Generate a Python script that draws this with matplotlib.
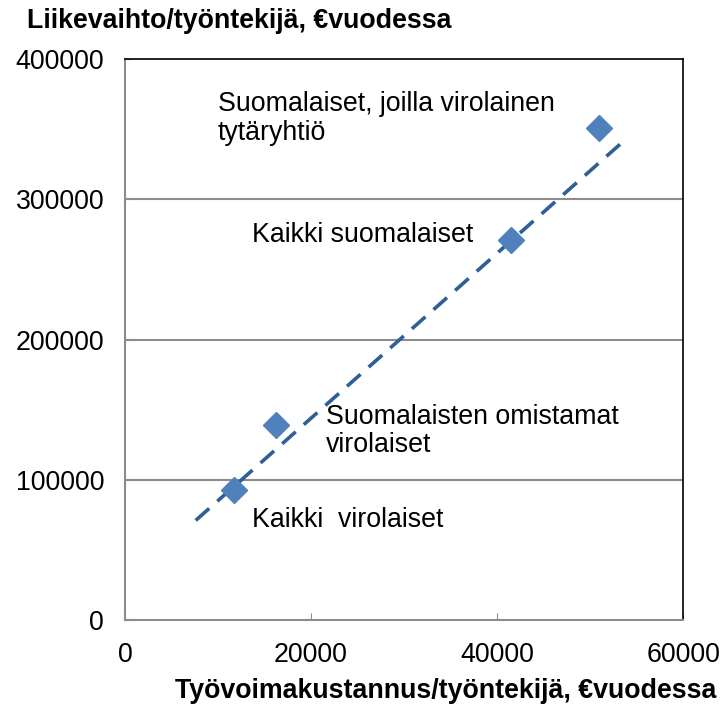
import matplotlib.pyplot as plt

plt.rcParams['font.family'] = ['Liberation Sans', 'DejaVu Sans']

# Työvoimakustannus ja liikevaihto per työntekijä (€ vuodessa)
kustannus = [11700, 16200, 41500, 51000]
liikevaihto = [93000, 139000, 271000, 351000]

# Trendiviivan päätepisteet kuvasta luettuna
trendi_x = [7600, 53700]
trendi_y = [71000, 342000]

x_ticks = [0, 20000, 40000, 60000]
y_ticks = [0, 100000, 200000, 300000, 400000]

fs = 19.3

fig = plt.figure(figsize=(7.21, 7.11), dpi=100)
ax = fig.add_axes([0.1734, 0.128, 0.774, 0.789])

for yv in y_ticks[1:-1]:
    ax.axhline(yv, color='#8c8c8c', lw=1.5, zorder=1)

ax.plot(trendi_x, trendi_y, color='#2f5f96', lw=2.6, dashes=(5, 3), zorder=2)
ax.plot(kustannus, liikevaihto, 'D', color='#4f81bd', markersize=13.5, zorder=3)

ax.set_xlim(0, 60000)
ax.set_ylim(0, 400000)
ax.set_xticks(x_ticks)
ax.set_yticks(y_ticks)
ax.tick_params(labelsize=fs, direction='in', length=5, color='#8c8c8c')
ax.tick_params(axis='y', pad=15)
ax.tick_params(axis='x', pad=16)

for s in ['left', 'bottom']:
    ax.spines[s].set_color('#8c8c8c')
    ax.spines[s].set_linewidth(1.5)
for s in ['top', 'right']:
    ax.spines[s].set_color('black')
    ax.spines[s].set_linewidth(1.2)

kw = dict(fontsize=fs, color='black')
ax.text(10000, 377000, 'Suomalaiset, joilla virolainen\ntytäryhtiö', va='top', ha='left', linespacing=1.12, **kw)
ax.text(13700, 274500, 'Kaikki suomalaiset', va='center', ha='left', **kw)
ax.text(21600, 154000, 'Suomalaisten omistamat\nvirolaiset', va='top', ha='left', linespacing=1.12, **kw)
ax.text(13700, 71000, 'Kaikki  virolaiset', va='center', ha='left', **kw)

fig.text(0.037, 0.971, 'Liikevaihto/työntekijä, €vuodessa', fontsize=fs, fontweight='bold', va='center', ha='left')
fig.text(0.993, 0.028, 'Työvoimakustannus/työntekijä, €vuodessa', fontsize=fs, fontweight='bold', va='center', ha='right')

fig.savefig('out.png', dpi=100)
